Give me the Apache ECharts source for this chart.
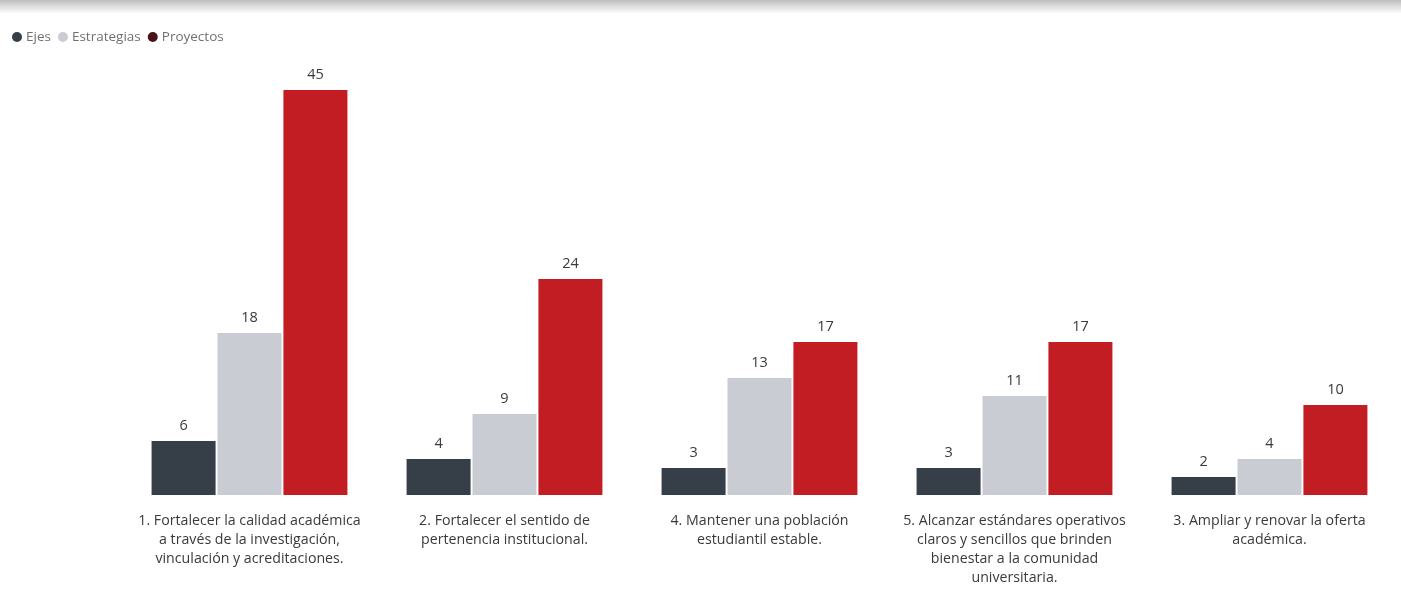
<!DOCTYPE html>
<html>
<head>
<meta charset="utf-8">
<script src="https://cdn.jsdelivr.net/npm/echarts@6/dist/echarts.min.js"></script>
<style>
  html, body { margin: 0; padding: 0; background: #ffffff; }
  #chart { width: 1401px; height: 599px; }
</style>
</head>
<body>
<div id="chart"></div>
<script>
// Strategic plan: axes, strategies and projects per axis
const categories = [
  '1. Fortalecer la calidad académica\na través de la investigación,\nvinculación y acreditaciones.',
  '2. Fortalecer el sentido de\npertenencia institucional.',
  '4. Mantener una población\nestudiantil estable.',
  '5. Alcanzar estándares operativos\nclaros y sencillos que brinden\nbienestar a la comunidad\nuniversitaria.',
  '3. Ampliar y renovar la oferta\nacadémica.'
];
const seriesNames = ['Ejes', 'Estrategias', 'Proyectos'];
const ejes = [6, 4, 3, 3, 2];
const estrategias = [18, 9, 13, 11, 4];
const proyectos = [45, 24, 17, 17, 10];

const colors = ['#363e48', '#c9cdd3', '#c11d23'];
const legendColors = ['#363e48', '#c9cdd3', '#4a1216'];
const fontFamily = '"Open Sans", "Noto Sans", sans-serif';

const chart = echarts.init(document.getElementById('chart'), null, { renderer: 'canvas' });

const values = [ejes, estrategias, proyectos];
const series = seriesNames.map((name, i) => ({
  name: name,
  type: 'bar',
  data: values[i],
  barWidth: 64,
  barGap: '3%',
  itemStyle: { color: colors[i] },
  label: {
    show: true,
    position: 'top',
    distance: 8,
    color: '#3a3a3a',
    fontSize: 14.5,
    fontFamily: fontFamily
  }
}));

chart.setOption({
  animation: false,
  backgroundColor: '#ffffff',
  graphic: [{
    type: 'rect',
    left: 0,
    top: 0,
    shape: { width: 1401, height: 14 },
    style: {
      fill: new echarts.graphic.LinearGradient(0, 0, 0, 1, [
        { offset: 0, color: '#bdbdbd' },
        { offset: 0.6, color: '#e6e6e6' },
        { offset: 1, color: '#ffffff' }
      ])
    },
    silent: true
  }],
  legend: {
    left: 7,
    top: 25,
    icon: 'circle',
    itemWidth: 10,
    itemHeight: 10,
    itemGap: 7,
    textStyle: { color: '#707070', fontSize: 13.5, fontFamily: fontFamily, padding: [0, 0, 0, -1] },
    data: seriesNames.map((n, i) => ({ name: n, itemStyle: { color: legendColors[i] } }))
  },
  grid: { left: 122, right: 4, top: 45, bottom: 104 },
  xAxis: {
    type: 'category',
    data: categories,
    axisLine: { show: false },
    axisTick: { show: false },
    axisLabel: {
      interval: 0,
      margin: 16,
      color: '#3a3a3a',
      fontSize: 14.2,
      lineHeight: 19,
      fontFamily: fontFamily,
      align: 'center'
    }
  },
  yAxis: {
    type: 'value',
    min: 0,
    max: 50,
    show: false,
    splitLine: { show: false }
  },
  series: series
});
</script>
</body>
</html>
